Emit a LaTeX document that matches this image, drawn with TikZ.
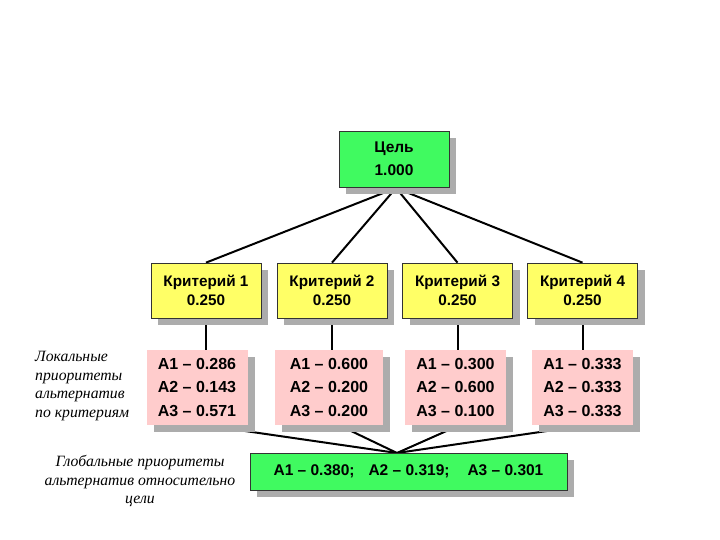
\documentclass[tikz,border=0pt]{standalone}
\usepackage{fontspec}
\setmainfont{Liberation Sans}
\newfontfamily\serifit{Liberation Serif}
\usetikzlibrary{shadows,backgrounds}
\definecolor{goalgreen}{RGB}{64,250,96}
\definecolor{crityellow}{RGB}{255,255,102}
\definecolor{altpink}{RGB}{255,204,204}
\definecolor{shadowgray}{RGB}{172,172,172}
\tikzset{
  boxshadow/.style={drop shadow={shadow xshift=7pt,shadow yshift=-7pt,fill=shadowgray,opacity=1}},
  goalbox/.style={draw=black!80,line width=0.7pt,fill=goalgreen,boxshadow,align=center,
    font=\fontsize{15.5}{23}\selectfont\bfseries,inner sep=0pt},
  critbox/.style={draw=black!80,line width=0.7pt,fill=crityellow,boxshadow,align=center,
    font=\fontsize{15.3}{19}\selectfont\bfseries,minimum width=110pt,minimum height=55pt,inner sep=0pt},
  altbox/.style={fill=altpink,boxshadow,align=center,
    font=\fontsize{16}{23.5}\selectfont\bfseries,minimum width=101pt,minimum height=75pt,inner sep=0pt},
  link/.style={draw=black,line width=2pt},
  note/.style={font=\serifit\itshape\fontsize{15.7}{18.7}\selectfont,inner sep=0pt}
}
\begin{document}
\begin{tikzpicture}[x=1pt,y=-1pt]
\useasboundingbox (0,0) rectangle (720,540);
\node[goalbox,minimum width=110pt,minimum height=56pt] (goal) at (394,159) {Цель\\1.000};
\node[critbox] (c1) at (206,290.5) {Критерий 1\\0.250};
\node[critbox] (c2) at (332,290.5) {Критерий 2\\0.250};
\node[critbox] (c3) at (457.5,290.5) {Критерий 3\\0.250};
\node[critbox] (c4) at (582.5,290.5) {Критерий 4\\0.250};
\node[altbox] (a1) at (197,387.5) {A1 -- 0.286\\A2 -- 0.143\\A3 -- 0.571};
\node[altbox,minimum width=108pt] (a2) at (329,387.5) {A1 -- 0.600\\A2 -- 0.200\\A3 -- 0.200};
\node[altbox] (a3) at (455.5,387.5) {A1 -- 0.300\\A2 -- 0.600\\A3 -- 0.100};
\node[altbox] (a4) at (582.5,387.5) {A1 -- 0.333\\A2 -- 0.333\\A3 -- 0.333};
\node[goalbox,minimum width=317pt,minimum height=37pt,font=\fontsize{15.5}{18}\selectfont\bfseries] (glob) at (408.5,471.5)
  {A1 -- 0.380;\hspace{14pt}A2 -- 0.319;\hspace{18pt}A3 -- 0.301};
\coordinate (gtop) at (397,453);
\coordinate (gbot) at (396,188);
\begin{scope}[on background layer]
\draw[link] (gbot) -- (c1.north);
\draw[link] (gbot) -- (c2.north);
\draw[link] (gbot) -- (c3.north);
\draw[link] (gbot) -- (c4.north);
\draw[link] (c1.south) -- (a1.north -| c1.south);
\draw[link] (c2.south) -- (a2.north -| c2.south);
\draw[link] (c3.south) -- (a3.north -| c3.south);
\draw[link] (c4.south) -- (a4.north -| c4.south);
\draw[link] ([xshift=8pt]a1.south) -- (gtop);
\draw[link] ([xshift=10pt]a2.south) -- (gtop);
\draw[link] ([xshift=4pt]a3.south) -- (gtop);
\draw[link] ([xshift=4pt]a4.south) -- (gtop);
\end{scope}
\node[note,align=left,anchor=north west] (loc) at (35,351) {Локальные\\приоритеты\\альтернатив\\по критериям};
\node[note,align=center,anchor=north] (glo) at (140,455) {Глобальные приоритеты\\альтернатив относительно\\цели};
\end{tikzpicture}
\end{document}
